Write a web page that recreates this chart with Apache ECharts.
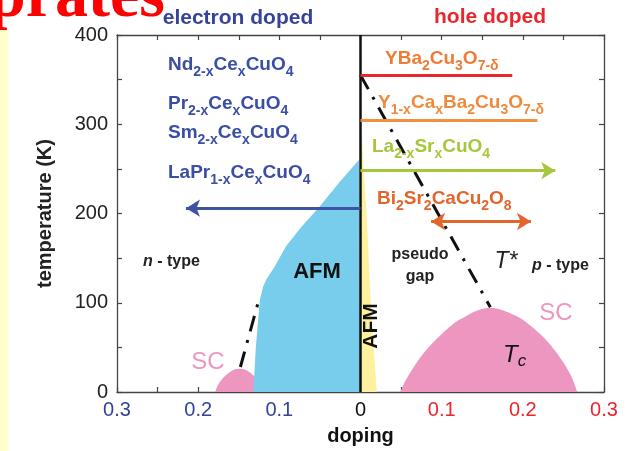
<!DOCTYPE html>
<html>
<head>
<meta charset="utf-8">
<script src="https://cdn.jsdelivr.net/npm/echarts@6.0.0/dist/echarts.min.js"></script>
<style>
html, body { margin: 0; padding: 0; background: #fff; }
#main { width: 637px; height: 451px; }
</style>
</head>
<body>
<div id="main"></div>
<script>
// doping: electron doped side is negative, hole doped side positive
const afmElectron = [[-0.132, 0], [-0.129, 50], [-0.124, 103], [-0.12, 118], [-0.116, 126], [-0.106, 140],
  [-0.092, 163], [-0.073, 185], [-0.051, 207], [-0.027, 234], [-0.002, 260], [0, 262]];
const afmHole = [[0, 296], [0.002, 282], [0.004, 250], [0.008, 190], [0.013, 95], [0.017, 40], [0.02, 0]];
const scElectron = [[-0.179, 0], [-0.176, 7], [-0.17, 15], [-0.163, 21], [-0.156, 25], [-0.149, 26],
  [-0.142, 25], [-0.135, 21], [-0.129, 15], [-0.128, 0]];
const scHole = [[0.049, 0], [0.055, 12], [0.06, 20], [0.07, 34], [0.08, 46], [0.09, 56], [0.1, 65], [0.11, 73],
  [0.12, 80], [0.13, 85], [0.14, 90], [0.15, 93], [0.16, 94], [0.17, 93], [0.18, 90], [0.19, 86], [0.2, 81],
  [0.21, 74], [0.22, 66], [0.23, 57], [0.24, 46], [0.25, 33], [0.26, 17], [0.267, 0]];
const pseudogapLine = [[0, 355], [0.16, 95]];
const electronOnsetLine = [[-0.148, 28], [-0.125, 104]];

const electronNames = ['Nd_{2-x}Ce_{x}CuO_{4}', 'Pr_{2-x}Ce_{x}CuO_{4}', 'Sm_{2-x}Ce_{x}CuO_{4}', 'LaPr_{1-x}Ce_{x}CuO_{4}'];
const electronRange = [0, -0.215];
const electronRangeT = 206;

const holeNames = ['YBa_{2}Cu_{3}O_{7-δ}', 'Y_{1-x}Ca_{x}Ba_{2}Cu_{3}O_{7-δ}', 'La_{2-x}Sr_{x}CuO_{4}', 'Bi_{2}Sr_{2}CaCu_{2}O_{8}'];
const holeFrom = [0, 0, 0, 0.087];
const holeTo = [0.187, 0.218, 0.24, 0.21];
const holeT = [355, 305, 248, 191];

// styles
const FONT = '"Liberation Sans", Arial, sans-serif';
const NAVY = '#34449b';
const RED = '#e8262c';
const holeLineColors = ['#e8262c', '#f39040', '#a6c63c', '#e2652b'];
const holeTextColors = ['#ef7b34', '#ef8a3c', '#a6c63c', '#e2652b'];
const holeArrows = [['none', 'none'], ['none', 'none'], ['none', 'arrow'], ['arrow', 'arrow']];
const electronTextPos = [[168, 65], [168, 104], [168, 133], [168, 173]];
const holeTextPos = [[385, 59], [378, 103], [372, 147], [377, 199]];

function chem(s) {
  return s.split(/(_\{[^}]*\})/).filter(p => p).map(p =>
    p.startsWith('_{') ? '{s|' + p.slice(2, -1) + '}' : '{m|' + p + '}').join('');
}

function chemText(s, pos, color) {
  return {
    type: 'text', x: pos[0], y: pos[1], z: 20,
    style: {
      text: chem(s), fill: color, align: 'left', verticalAlign: 'middle',
      rich: {
        m: { fill: color, fontSize: 19, fontWeight: 'bold', fontFamily: FONT, lineHeight: 28 },
        s: { fill: color, fontSize: 14, fontWeight: 'bold', fontFamily: FONT, lineHeight: 14, verticalAlign: 'bottom' }
      }
    }
  };
}

function plain(text, x, y, font, color, extra) {
  return Object.assign({
    type: 'text', x: x, y: y, z: 20,
    style: { text: text, font: font, fill: color, align: 'center', verticalAlign: 'middle' }
  }, extra || {});
}

function typeLabel(letter, x, y) {
  return { type: 'text', x: x, y: y, z: 20,
    style: { text: '{i|' + letter + '}{b| - type}', align: 'left', verticalAlign: 'middle', fill: '#222',
      rich: { i: { fill: '#222', font: 'italic bold 16px ' + FONT }, b: { fill: '#222', font: 'bold 16px ' + FONT } } } };
}

const chart = echarts.init(document.getElementById('main'));

const arrowLines = [[
  { coord: [electronRange[0], electronRangeT], symbol: 'none', lineStyle: { color: '#3f53a6', width: 3, type: 'solid' } },
  { coord: [electronRange[1], electronRangeT], symbol: 'arrow' }
]];
holeNames.forEach((n, i) => {
  arrowLines.push([
    { coord: [holeFrom[i], holeT[i]], symbol: holeArrows[i][0], lineStyle: { color: holeLineColors[i], width: 3, type: 'solid' } },
    { coord: [holeTo[i], holeT[i]], symbol: holeArrows[i][1] }
  ]);
});

const graphics = [
  { type: 'rect', shape: { x: 0, y: 28, width: 8, height: 423 }, style: { fill: '#ffffcc' }, z: 1 },
  { type: 'text', x: 165, y: 32, z: 2,
    style: { text: 'Cuprates', font: 'bold 66px "Liberation Serif", "Times New Roman", serif', fill: '#ff0000', align: 'right', verticalAlign: 'bottom' } },
  plain('electron doped', 238, 18, 'bold 21px ' + FONT, NAVY),
  plain('hole doped', 490, 17, 'bold 21px ' + FONT, RED),
  plain('AFM', 317, 272, 'bold 22px ' + FONT, '#111'),
  plain('AFM', 371, 326, 'bold 21px ' + FONT, '#111', { rotation: Math.PI / 2 }),
  plain('pseudo', 420, 255, 'bold 16px ' + FONT, '#222'),
  plain('gap', 420, 277, 'bold 16px ' + FONT, '#222'),
  plain('T*', 506, 262, 'italic 23px ' + FONT, '#222'),
  plain('SC', 556, 313, '24px ' + FONT, '#ee96c0'),
  plain('SC', 208, 362, '24px ' + FONT, '#ee96c0'),
  typeLabel('n', 143, 262),
  typeLabel('p', 532, 266),
  { type: 'text', x: 503, y: 355, z: 20,
    style: { text: '{t|T}{c|c}', align: 'left', verticalAlign: 'middle', fill: '#111',
      rich: {
        t: { fill: '#111', fontSize: 24, fontStyle: 'italic', fontFamily: FONT, lineHeight: 30 },
        c: { fill: '#111', fontSize: 17, fontStyle: 'italic', fontFamily: FONT, lineHeight: 17, verticalAlign: 'bottom' }
      } } }
];
electronNames.forEach((n, i) => graphics.push(chemText(n, electronTextPos[i], '#3a4ea3')));
holeNames.forEach((n, i) => graphics.push(chemText(n, holeTextPos[i], holeTextColors[i])));

const xLabel = v => {
  const k = Math.round(v * 100);
  if (k % 10 !== 0) return '';
  if (k === 0) return '{z|0}';
  return (k < 0 ? '{e|' : '{h|') + (Math.abs(k) / 100).toFixed(1) + '}';
};

const axisLine = { show: true, onZero: false, lineStyle: { color: '#444', width: 1.3 } };
const axisTick = { inside: true, length: 5, lineStyle: { color: '#444', width: 1.2 } };

chart.setOption({
  animation: false,
  backgroundColor: '#fff',
  grid: { left: 117, right: 33, top: 35, bottom: 59, outerBoundsMode: 'none' },
  xAxis: [{
    type: 'value', min: -0.3, max: 0.3, interval: 0.05, position: 'bottom',
    name: 'doping', nameLocation: 'middle', nameGap: 34,
    nameTextStyle: { fontSize: 20, fontWeight: 'bold', color: '#111', fontFamily: FONT },
    axisLine: axisLine, axisTick: axisTick, splitLine: { show: false },
    axisLabel: {
      margin: 8, formatter: xLabel,
      rich: {
        e: { color: '#34429a', fontSize: 20, fontFamily: FONT },
        h: { color: '#e8262c', fontSize: 20, fontFamily: FONT },
        z: { color: '#111', fontSize: 20, fontFamily: FONT }
      }
    }
  }, {
    type: 'value', min: -0.3, max: 0.3, interval: 0.05, position: 'top',
    axisLine: axisLine, axisTick: axisTick, splitLine: { show: false }, axisLabel: { show: false }
  }],
  yAxis: [{
    type: 'value', min: 0, max: 400, interval: 50, position: 'left',
    name: 'temperature (K)', nameLocation: 'middle', nameGap: 62, nameRotate: 90,
    nameTextStyle: { fontSize: 20, fontWeight: 'bold', color: '#222', fontFamily: FONT },
    axisLine: axisLine, axisTick: axisTick, splitLine: { show: false },
    axisLabel: {
      margin: 9, fontSize: 20, color: '#222', fontFamily: FONT,
      formatter: v => (v % 100 === 0 ? String(v) : '')
    }
  }, {
    type: 'value', min: 0, max: 400, interval: 50, position: 'right',
    axisLine: axisLine, axisTick: axisTick, splitLine: { show: false }, axisLabel: { show: false }
  }],
  series: [
    { type: 'line', data: scElectron, symbol: 'none', smooth: 0.3, z: 1,
      lineStyle: { width: 0, opacity: 0 }, areaStyle: { color: '#ec96c0', opacity: 1 } },
    { type: 'line', data: afmElectron, symbol: 'none', z: 2,
      lineStyle: { width: 0, opacity: 0 }, areaStyle: { color: '#78cdec', opacity: 1 } },
    { type: 'line', data: afmHole, symbol: 'none', z: 2,
      lineStyle: { width: 0, opacity: 0 }, areaStyle: { color: '#fdf19d', opacity: 1 } },
    { type: 'line', data: scHole, symbol: 'none', smooth: 0.3, z: 2,
      lineStyle: { width: 0, opacity: 0 }, areaStyle: { color: '#ec96c0', opacity: 1 } },
    { type: 'line', data: pseudogapLine, symbol: 'none', z: 4,
      lineStyle: { color: '#111', width: 3, type: [16, 9, 3, 9] } },
    { type: 'line', data: electronOnsetLine, symbol: 'none', z: 4,
      lineStyle: { color: '#111', width: 3, type: [16, 9, 3, 9] } },
    { type: 'line', data: [[0, 0]], symbol: 'none', z: 5, lineStyle: { width: 0, opacity: 0 },
      markLine: {
        silent: true, symbol: ['none', 'none'], symbolSize: [13, 14], label: { show: false },
        lineStyle: { color: '#111', width: 2.5, type: 'solid' },
        data: [{ xAxis: 0 }].concat(arrowLines)
      } }
  ],
  graphic: graphics
});
</script>
</body>
</html>
